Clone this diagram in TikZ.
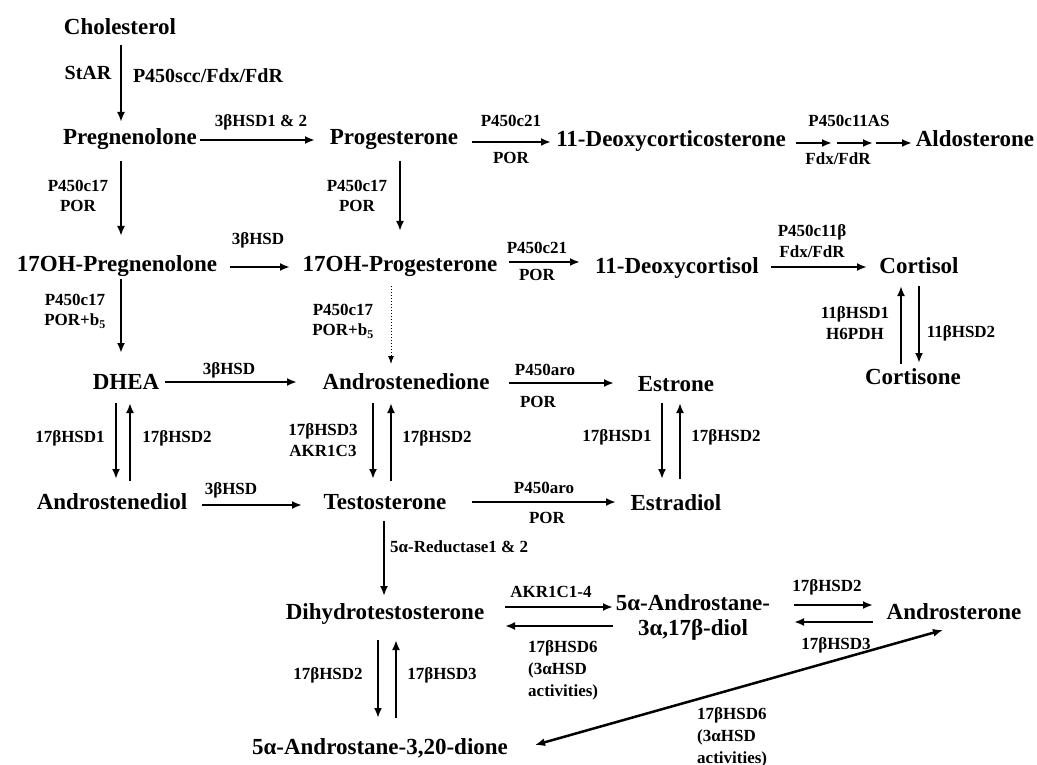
\documentclass[tikz,border=0pt]{standalone}
\usepackage{fontspec}
\setmainfont{Liberation Serif}
\usetikzlibrary{arrows.meta,calc}
\begin{document}
\begin{tikzpicture}[x=1pt,y=-1pt,
  metf/.style={font=\fontsize{23}{25}\selectfont\bfseries, inner sep=0pt},
  met/.style={metf, text height=16pt, text depth=5pt},
  enz/.style={font=\fontsize{17}{20.5}\selectfont\bfseries, inner sep=0pt, align=center},
  enzb/.style={font=\fontsize{20}{22}\selectfont\bfseries, inner sep=0pt},
  enzl/.style={font=\fontsize{17}{22}\selectfont\bfseries, inner sep=0pt, align=left, anchor=west},
  arr/.style={line width=2.5pt, -{Latex[length=10pt,width=8pt]}},
  darr/.style={line width=2.5pt, {Latex[length=10pt,width=8pt]}-{Latex[length=10pt,width=8pt]}},
  dotarr/.style={line width=1pt, dotted, -{Latex[length=8pt,width=6pt]}}
]
\fill[white] (0,0) rectangle (1037,765);
\useasboundingbox (0,0) rectangle (1037,765);

% ---------- metabolites ----------
\node[met] (chol) at (120,29) {Cholesterol};
\node[met] (preg) at (130,139) {Pregnenolone};
\node[met] (prog) at (394,139) {Progesterone};
\node[met] (doc) at (671,141) {11-Deoxycorticosterone};
\node[met] (aldo) at (975,141) {Aldosterone};
\node[met] (ohpreg) at (117,266) {17OH-Pregnenolone};
\node[met] (ohprog) at (400,266) {17OH-Progesterone};
\node[met] (dcortisol) at (677,268) {11-Deoxycortisol};
\node[met] (cortisol) at (919,268) {Cortisol};
\node[met] (cortisone) at (913,379) {Cortisone};
\node[met] (dhea) at (126,384) {DHEA};
\node[met] (adione) at (406,384) {Androstenedione};
\node[met] (estrone) at (676,386) {Estrone};
\node[met] (adiol) at (112,504) {Androstenediol};
\node[met] (testo) at (385,504) {Testosterone};
\node[met] (estradiol) at (676,505) {Estradiol};
\node[met] (dht) at (385,614) {Dihydrotestosterone};
\node[metf, align=center] (diol) at (693,617) {5α-Androstane-\\3α,17β-diol};
\node[met] (andro) at (954,614) {Androsterone};
\node[met] (dione) at (380,749) {5α-Androstane-3,20-dione};

% ---------- enzyme labels ----------
\node[enzb] (lstar) at (88,73) {StAR};
\node[enzb] (lscc) at (208,76) {P450scc/Fdx/FdR};
\node[enz] (l3b12) at (261,122) {3βHSD1 \& 2};
\node[enz] (lc21a) at (511,121) {P450c21};
\node[enz] (lpora) at (511,158) {POR};
\node[enz] (lc11as) at (849,121) {P450c11AS};
\node[enz] (lfdx) at (838,159) {Fdx/FdR};
\node[enz] (lc17a) at (78,196) {P450c17\\POR};
\node[enz] (lc17b) at (357,196) {P450c17\\POR};
\node[enz] (l3b1) at (258,240) {3βHSD};
\node[enz] (lc21b) at (537,248) {P450c21};
\node[enz] (lporb) at (537,275) {POR};
\node[enz] (lc11b) at (812,241) {P450c11β\\Fdx/FdR};
\node[enz] (l11b1) at (855,323) {11βHSD1\\H6PDH};
\node[enz] (l11b2) at (961,333) {11βHSD2};
\node[enz] (lc17c) at (75,311) {P450c17\\POR+b\textsubscript{5}};
\node[enz] (lc17d) at (343,321) {P450c17\\POR+b\textsubscript{5}};
\node[enz] (l3b2) at (229,370) {3βHSD};
\node[enz] (laroa) at (545,370) {P450aro};
\node[enz] (lporc) at (538,402) {POR};
\node[enz] (l17a) at (70,438) {17βHSD1};
\node[enz] (l17b) at (177,438) {17βHSD2};
\node[enz] (l17c) at (323,440) {17βHSD3\\AKR1C3};
\node[enz] (l17d) at (437,438) {17βHSD2};
\node[enz] (l17e) at (617,437) {17βHSD1};
\node[enz] (l17f) at (726,437) {17βHSD2};
\node[enz] (l3b3) at (231,490) {3βHSD};
\node[enz] (larob) at (544,488) {P450aro};
\node[enz] (lpord) at (547,518) {POR};
\node[enzl] (l5ar) at (390,547) {5α-Reductase1 \& 2};
\node[enz] (lakr) at (551,592) {AKR1C1-4};
\node[enzl] (l6a) at (528,670) {17βHSD6\\(3αHSD\\activities)};
\node[enz] (l17g) at (827,587) {17βHSD2};
\node[enz] (l17h) at (836,645) {17βHSD3};
\node[enz] (l17i) at (328,675) {17βHSD2};
\node[enz] (l17j) at (442,675) {17βHSD3};
\node[enzl] (l6b) at (697,737) {17βHSD6\\(3αHSD\\activities)};

% ---------- connectors ----------
\draw[arr] ($(chol)+(1,16)$) -- ($(preg)+(-9,-17)$);
\draw[arr] ($(preg)+(70,1)$) -- ($(prog)+(-79,1)$);
\draw[arr] ($(prog)+(78,3)$) -- ($(doc)+(-120,1)$);
\draw[arr] ($(doc)+(125,2)$) -- ($(doc)+(161,2)$);
\draw[arr] ($(doc)+(166,2)$) -- ($(aldo)+(-102,2)$);
\draw[arr] ($(aldo)+(-99,2)$) -- ($(aldo)+(-63,2)$);

\draw[arr] ($(preg)+(-9,22)$) -- ($(ohpreg)+(4,-30)$);
\draw[arr] ($(prog)+(6,22)$) -- ($(ohprog)+(0,-35)$);
\draw[arr] ($(ohpreg)+(113,1)$) -- ($(ohprog)+(-110,1)$);
\draw[arr] ($(ohprog)+(109,-4)$) -- ($(dcortisol)+(-97,-6)$);
\draw[arr] ($(dcortisol)+(94,-1)$) -- ($(cortisol)+(-52,-1)$);
\draw[arr] ($(cortisol)+(0,18)$) -- ($(cortisone)+(6,-16)$);
\draw[arr] ($(cortisone)+(-12,-15)$) -- ($(cortisol)+(-18,18)$);

\draw[arr] ($(ohpreg)+(4,13)$) -- ($(dhea)+(-5,-31)$);
\draw[dotarr] ($(ohprog)+(-9,20)$) -- ($(adione)+(-15,-20)$);
\draw[arr] ($(dhea)+(39,-2)$) -- ($(adione)+(-109,-2)$);
\draw[arr] ($(adione)+(103,-1)$) -- ($(estrone)+(-62,-3)$);

\draw[arr] ($(dhea)+(-10,19)$) -- ($(adiol)+(4,-25)$);
\draw[arr] ($(adiol)+(18,-23)$) -- ($(dhea)+(4,19)$);
\draw[arr] ($(adione)+(-33,19)$) -- ($(testo)+(-12,-25)$);
\draw[arr] ($(testo)+(6,-23)$) -- ($(adione)+(-15,19)$);
\draw[arr] ($(estrone)+(-14,17)$) -- ($(estradiol)+(-14,-26)$);
\draw[arr] ($(estradiol)+(4,-26)$) -- ($(estrone)+(4,17)$);

\draw[arr] ($(adiol)+(90,1)$) -- ($(testo)+(-83,1)$);
\draw[arr] ($(testo)+(87,-2)$) -- ($(estradiol)+(-60,-3)$);
\draw[arr] ($(testo)+(-1,17)$) -- ($(dht)+(-1,-18)$);

\draw[arr] ($(dht)+(120,-7)$) -- ($(diol)+(-80,-10)$);
\draw[arr] ($(diol)+(-80,9)$) -- ($(dht)+(120,12)$);
\draw[arr] ($(dht)+(-7,26)$) -- ($(dione)+(-2,-31)$);
\draw[arr] ($(dione)+(16,-31)$) -- ($(dht)+(11,26)$);
\draw[arr] ($(diol)+(101,-12)$) -- ($(andro)+(-81,-9)$);
\draw[arr] ($(andro)+(-81,8)$) -- ($(diol)+(101,5)$);
\draw[darr] ($(dione)+(155,-4)$) -- ($(andro)+(-11,16)$);
\end{tikzpicture}
\end{document}
